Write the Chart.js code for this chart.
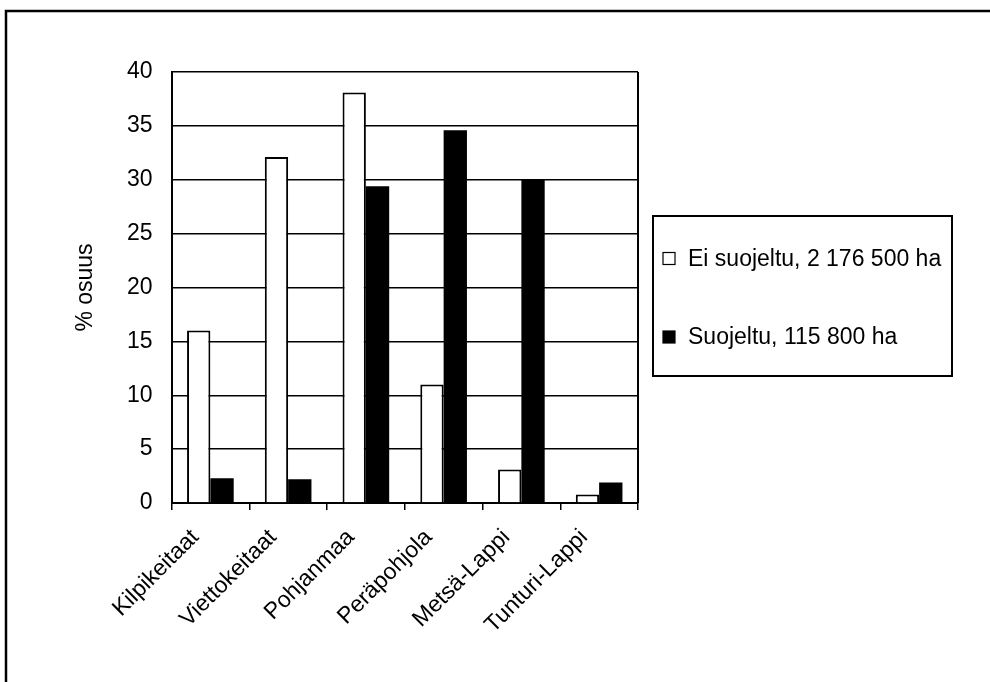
<!DOCTYPE html>
<html>
<head>
<meta charset="utf-8">
<script src="https://cdn.jsdelivr.net/npm/chart.js@4.4.1/dist/chart.umd.min.js"></script>
<style>
  html, body { margin: 0; padding: 0; background: #fff; }
  #wrap { width: 990px; height: 682px; position: relative; }
</style>
</head>
<body>
<div id="wrap"><canvas id="c" width="990" height="682"></canvas></div>
<script>
const categories = ['Kilpikeitaat', 'Viettokeitaat', 'Pohjanmaa', 'Peräpohjola', 'Metsä-Lappi', 'Tunturi-Lappi'];
const seriesNames = ['Ei suojeltu, 2 176 500 ha', 'Suojeltu, 115 800 ha'];
const eiSuojeltu = [16.0, 32.1, 38.1, 11.0, 3.1, 0.8];
const suojeltu = [2.3, 2.2, 29.4, 34.6, 30.0, 1.9];
const yTicks = [0, 5, 10, 15, 20, 25, 30, 35, 40];
const yTitle = '% osuus';

const FONT = "'Liberation Sans', Arial, sans-serif";
const FS = 23;

const framePlugin = {
  id: 'frame',
  beforeDraw(chart) {
    const ctx = chart.ctx;
    ctx.save();
    ctx.fillStyle = '#fff';
    ctx.fillRect(0, 0, chart.width, chart.height);
    ctx.strokeStyle = '#000';
    ctx.lineWidth = 2.5;
    ctx.beginPath();
    ctx.moveTo(6, chart.height + 5);
    ctx.lineTo(6, 11);
    ctx.lineTo(chart.width + 5, 11);
    ctx.stroke();
    ctx.restore();
  },
  afterDatasetsDraw(chart) {
    const ctx = chart.ctx;
    const a = chart.chartArea;
    ctx.save();
    ctx.strokeStyle = '#000';
    ctx.lineWidth = 2;
    ctx.beginPath();
    ctx.moveTo(a.right, a.top);
    ctx.lineTo(a.right, a.bottom);
    ctx.stroke();
    ctx.restore();
  },
  afterDraw(chart) {
    const ctx = chart.ctx;
    const bx = 653, by = 216, bw = 299, bh = 160;
    ctx.save();
    ctx.fillStyle = '#fff';
    ctx.fillRect(bx, by, bw, bh);
    ctx.strokeStyle = '#000';
    ctx.lineWidth = 2;
    ctx.strokeRect(bx, by, bw, bh);
    const rowY = [258.5, 337];
    chart.data.datasets.forEach((ds, i) => {
      const cy = rowY[i];
      ctx.fillStyle = ds.backgroundColor;
      ctx.fillRect(663, cy - 6, 12, 12);
      ctx.strokeStyle = '#000';
      ctx.lineWidth = 1.2;
      ctx.strokeRect(663, cy - 6, 12, 12);
      ctx.fillStyle = '#000';
      ctx.font = FS + 'px ' + FONT;
      ctx.textBaseline = 'middle';
      ctx.textAlign = 'left';
      ctx.fillText(ds.label, 688, cy + 1);
    });
    ctx.restore();
  }
};

new Chart(document.getElementById('c'), {
  type: 'bar',
  data: {
    labels: categories,
    datasets: [
      { label: seriesNames[0], data: eiSuojeltu, backgroundColor: '#ffffff', borderColor: '#000000', borderWidth: 2 },
      { label: seriesNames[1], data: suojeltu, backgroundColor: '#000000', borderColor: '#000000', borderWidth: 0 }
    ]
  },
  plugins: [framePlugin],
  options: {
    responsive: false,
    animation: false,
    events: [],
    layout: { padding: { left: 0, top: 72, right: 352, bottom: 0 } },
    datasets: { bar: { categoryPercentage: 0.6, barPercentage: 1.0 } },
    plugins: { legend: { display: false }, tooltip: { enabled: false } },
    scales: {
      x: {
        offset: true,
        grid: { offset: true, drawOnChartArea: false, drawTicks: true, tickLength: 7, color: '#000', lineWidth: 1.5 },
        border: { color: '#000', width: 2 },
        ticks: { color: '#000', font: { family: FONT, size: FS }, minRotation: 45, maxRotation: 45, padding: 14, labelOffset: -15, autoSkip: false },
        afterFit(scale) { scale.height = 179; }
      },
      y: {
        min: 0, max: 40,
        afterBuildTicks(scale) { scale.ticks = yTicks.map(v => ({ value: v })); },
        grid: { color: '#000', lineWidth: 1.5, drawTicks: false },
        border: { color: '#000', width: 2 },
        ticks: { color: '#000', font: { family: FONT, size: FS }, padding: 19 },
        title: { display: true, text: yTitle, color: '#000', font: { family: FONT, size: FS }, padding: { top: 72, bottom: 0 } },
        afterFit(scale) { scale.width = 171.5; }
      }
    }
  }
});
</script>
</body>
</html>
